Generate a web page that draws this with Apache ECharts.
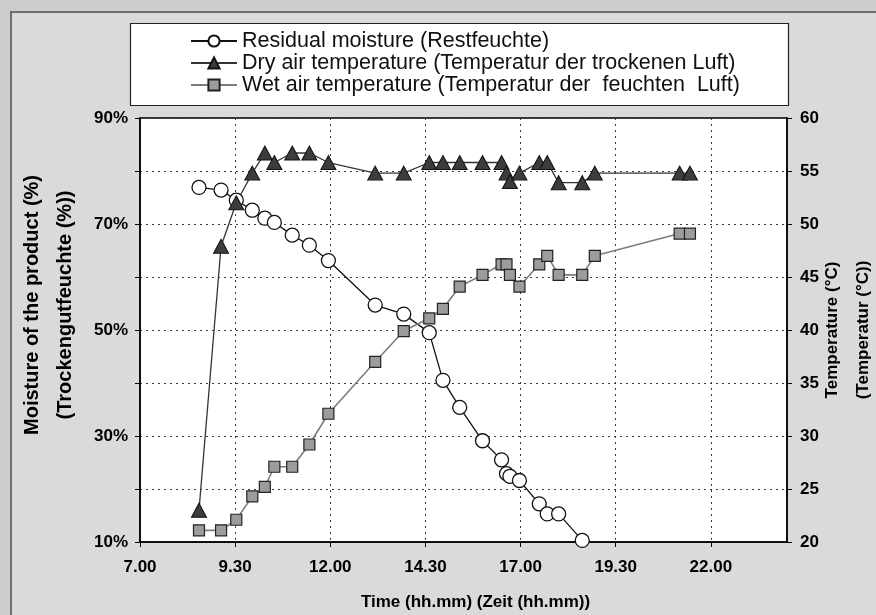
<!DOCTYPE html>
<html><head><meta charset="utf-8">
<script src="https://cdn.jsdelivr.net/npm/echarts@6/dist/echarts.min.js"></script>
<style>
html,body{margin:0;padding:0;background:#cdcdcd;overflow:hidden}
#frame{position:absolute;left:10px;top:11px;width:900px;height:700px;border:2px solid #6e6e6e;background:#dadada}
#c{position:absolute;left:0;top:0;width:876px;height:615px}
</style>
</head><body><div id="frame"></div><div id="c"></div>
<script>
// Time of measurement, decimal hours (e.g. 9.5 = 9.30)
const times = [8.55, 9.13, 9.53, 9.95, 10.28, 10.53, 11.0, 11.45, 11.95, 13.18, 13.93, 14.6, 14.96, 15.4, 16.0, 16.5, 16.63, 16.72, 16.97, 17.49, 17.7, 18.0, 18.62, 18.95, 21.18, 21.45];
// Residual moisture (%), left axis
const moisture = [76.9, 76.4, 74.5, 72.6, 71.1, 70.3, 67.9, 66.0, 63.1, 54.7, 53.0, 49.5, 40.5, 35.4, 29.1, 25.5, 22.9, 22.4, 21.6, 17.2, 15.3, 15.3, 10.3, null, null, null];
// Dry air temperature (°C), right axis
const dryTemp = [23.0, 47.9, 52.0, 54.8, 56.7, 55.8, 56.7, 56.7, 55.8, 54.8, 54.8, 55.8, 55.8, 55.8, 55.8, 55.8, 54.8, 54.0, 54.8, 55.8, 55.8, 53.9, 53.9, 54.8, 54.8, 54.8];
// Wet air temperature (°C), right axis
const wetTemp = [21.1, 21.1, 22.1, 24.3, 25.2, 27.1, 27.1, 29.2, 32.1, 37.0, 39.9, 41.1, 42.0, 44.1, 45.2, 46.2, 46.2, 45.2, 44.1, 46.2, 47.0, 45.2, 45.2, 47.0, 49.1, 49.1];

const seriesNames = [
  'Residual moisture (Restfeuchte)',
  'Dry air temperature (Temperatur der trockenen Luft)',
  'Wet air temperature (Temperatur der  feuchten  Luft)'
];
const xTickLabels = ['7.00', '9.30', '12.00', '14.30', '17.00', '19.30', '22.00'];
const leftTickLabels = ['10%', '30%', '50%', '70%', '90%'];
const rightTickLabels = ['20', '25', '30', '35', '40', '45', '50', '55', '60'];

const xTitle = 'Time (hh.mm) (Zeit (hh.mm))';
const leftTitle = 'Moisture of the product (%)\n(Trockengutfeuchte (%))';
const rightTitle = 'Temperature (°C)\n(Temperatur (°C))';

const FONT = "'Liberation Sans', Arial, sans-serif";
const pair = (ys) => times.map((t, i) => [t, ys[i]]);

function fmtTime(v) {
  const h = Math.floor(v + 1e-6);
  const m = Math.round((v - h) * 60);
  const s = h + '.' + (m < 10 ? '0' : '') + m;
  return xTickLabels.includes(s) ? s : '';
}

const chart = echarts.init(document.getElementById('c'), null, {renderer: 'canvas'});
const axisLabelStyle = {color: '#000', fontSize: 17, fontWeight: 'bold', fontFamily: FONT};
const dotted = {type: [2, 4], color: '#3a3a3a', width: 1};

chart.setOption({
  animation: false,
  backgroundColor: 'transparent',
  textStyle: {fontFamily: FONT},
  graphic: [{
    type: 'rect', z: 0,
    shape: {x: 130.5, y: 23.5, width: 658, height: 82},
    style: {fill: '#fff', stroke: '#222', lineWidth: 1.2}
  }],
  legend: {
    orient: 'vertical', left: 185, top: 25, padding: 5,
    itemWidth: 46, itemHeight: 14, itemGap: 0,
    textStyle: {fontSize: 21.5, lineHeight: 22, color: '#111', fontFamily: FONT},
    data: seriesNames
  },
  grid: {left: 140, right: 89, top: 118, bottom: 73, show: true, outerBoundsMode: 'none',
         containLabel: false,
         backgroundColor: '#fff', borderColor: '#000', borderWidth: 1.5},
  xAxis: {
    type: 'value', min: 7, max: 24, interval: 2.5,
    axisLine: {show: true, lineStyle: {color: '#000', width: 1.5}},
    axisTick: {show: true, length: 5, lineStyle: {color: '#000'}},
    axisLabel: Object.assign({formatter: fmtTime, margin: 17, showMaxLabel: false}, axisLabelStyle),
    splitLine: {show: true, lineStyle: dotted},
    name: xTitle, nameLocation: 'middle', nameGap: 52,
    nameTextStyle: {fontSize: 17, fontWeight: 'bold', color: '#000', padding: [0, 0, 0, 24]}
  },
  yAxis: [{
    type: 'value', min: 10, max: 90, interval: 10, position: 'left',
    axisLine: {show: true, lineStyle: {color: '#000', width: 1.5}},
    axisTick: {show: true, length: 5, lineStyle: {color: '#000'}},
    axisLabel: Object.assign({
      formatter: v => leftTickLabels.includes(v + '%') ? v + '%' : '', margin: 12
    }, axisLabelStyle),
    splitLine: {show: true, lineStyle: dotted},
    name: leftTitle, nameLocation: 'middle', nameRotate: 90, nameGap: 58,
    nameTextStyle: {fontSize: 20, lineHeight: 33, fontWeight: 'bold', color: '#000', padding: [0, 0, 0, 50]}
  }, {
    type: 'value', min: 20, max: 60, interval: 5, position: 'right',
    axisLine: {show: true, lineStyle: {color: '#000', width: 1.5}},
    axisTick: {show: true, length: 5, lineStyle: {color: '#000'}},
    axisLabel: Object.assign({
      formatter: v => rightTickLabels.includes(String(v)) ? String(v) : '', margin: 13
    }, axisLabelStyle),
    splitLine: {show: false},
    name: rightTitle, nameLocation: 'middle', nameRotate: 90, nameGap: 29.5,
    nameMoveOverlap: false,
    nameTextStyle: {fontSize: 17, lineHeight: 31, fontWeight: 'bold', color: '#000'}
  }],
  series: [{
    name: seriesNames[0], type: 'line', yAxisIndex: 0, data: pair(moisture),
    symbol: 'circle', symbolSize: 14, showSymbol: true, connectNulls: false,
    lineStyle: {color: '#111', width: 1.3},
    itemStyle: {color: '#fff', borderColor: '#111', borderWidth: 1.3}
  }, {
    name: seriesNames[1], type: 'line', yAxisIndex: 1, data: pair(dryTemp),
    symbol: 'triangle', symbolSize: [15, 14], showSymbol: true,
    lineStyle: {color: '#333', width: 1.3},
    itemStyle: {color: '#3c3c3c', borderColor: '#111', borderWidth: 1}
  }, {
    name: seriesNames[2], type: 'line', yAxisIndex: 1, data: pair(wetTemp),
    symbol: 'rect', symbolSize: 11, showSymbol: true,
    lineStyle: {color: '#7c7c7c', width: 1.6},
    itemStyle: {color: '#9c9c9c', borderColor: '#222', borderWidth: 1.2}
  }]
});
</script>
</body></html>
